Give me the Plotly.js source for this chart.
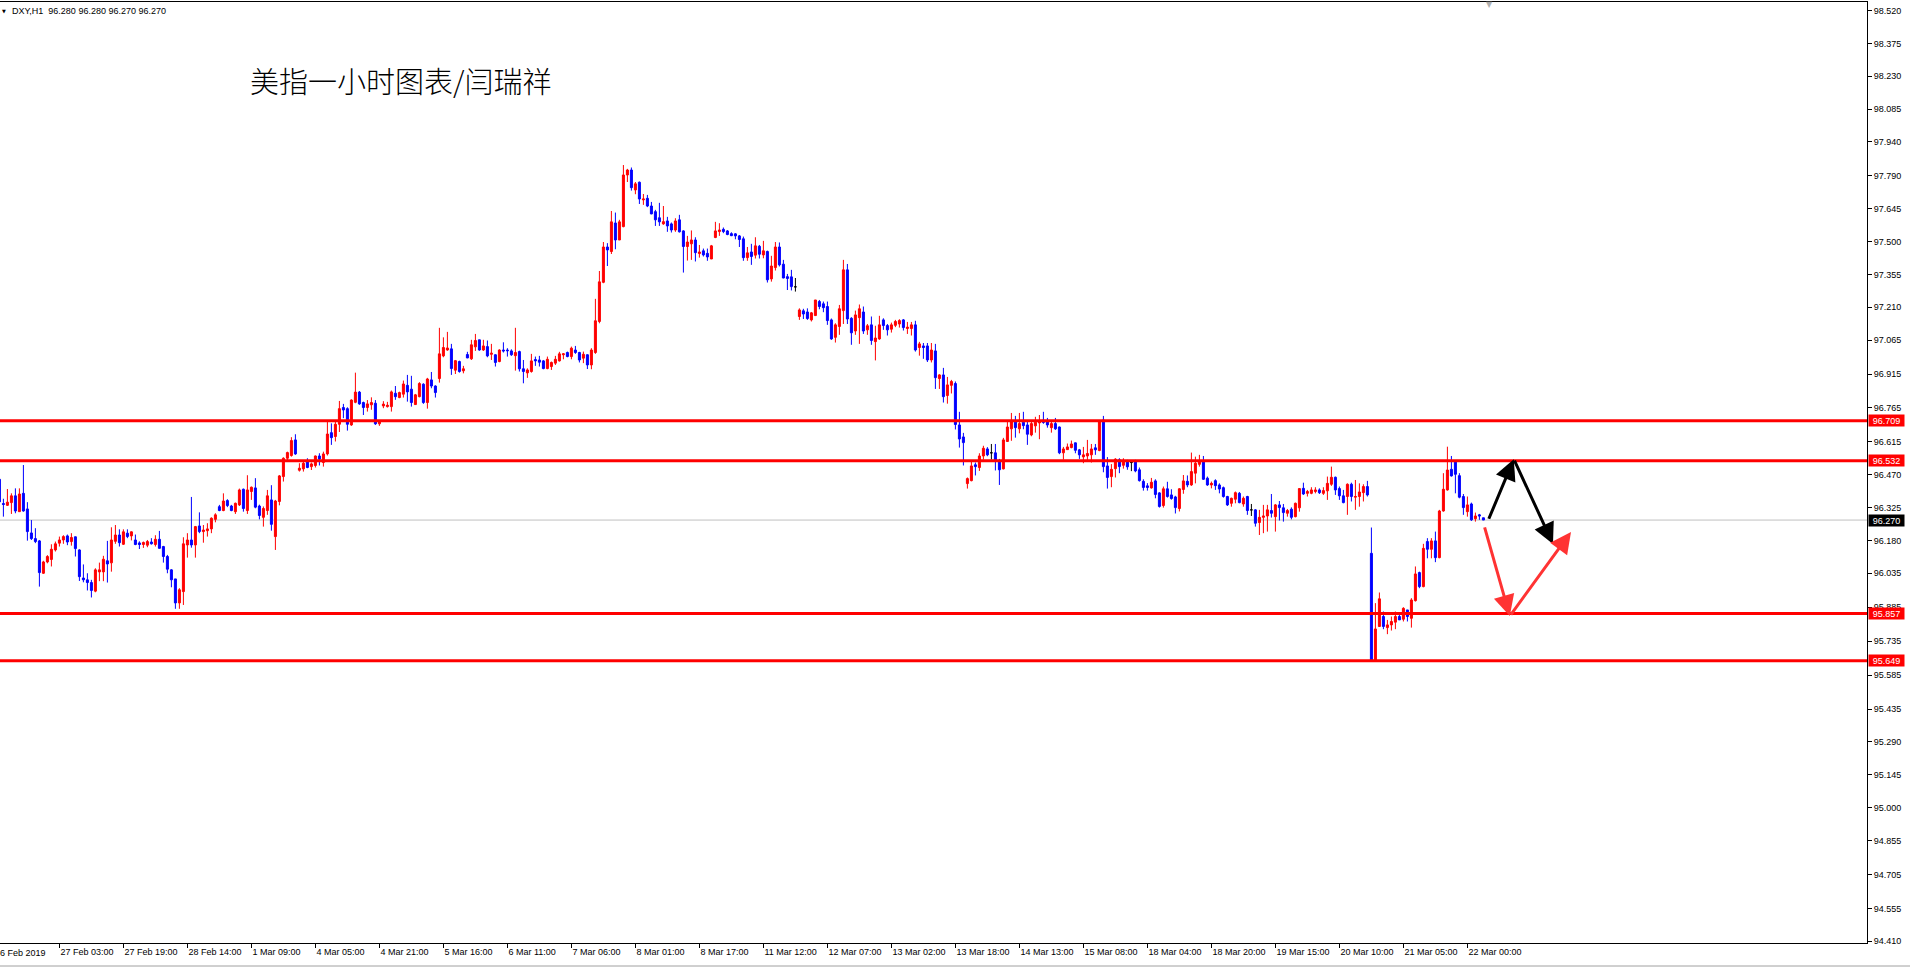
<!DOCTYPE html>
<html>
<head>
<meta charset="utf-8">
<script src="https://cdn.plot.ly/plotly-3.0.1.min.js"></script>
<style>
html,body{margin:0;padding:0;background:#fff;overflow:hidden}
#chart{width:1910px;height:968px}
</style>
</head>
<body>
<div id="chart"></div>
<script>
// ---- DATA (DXY, H1) ----
const firstBarIndex = -1;   // bar index of the first entry below
const open = [
96.450,96.343,96.335,96.347,96.377,96.307,96.388,96.319,96.213,96.188,
96.178,96.035,96.085,96.096,96.138,96.168,96.182,96.200,96.175,96.196,
96.138,96.014,96.006,95.994,95.956,96.041,96.041,96.090,96.081,96.176,
96.204,96.163,96.212,96.200,96.182,96.169,96.162,96.159,96.173,96.162,
96.185,96.153,96.109,96.050,96.010,95.904,95.954,96.160,96.182,96.160,
96.244,96.219,96.223,96.231,96.273,96.329,96.312,96.356,96.332,96.307,
96.337,96.406,96.312,96.396,96.412,96.332,96.282,96.312,96.359,96.197,
96.352,96.462,96.543,96.555,96.624,96.490,96.496,96.528,96.506,96.511,
96.553,96.524,96.562,96.656,96.639,96.693,96.767,96.762,96.690,96.790,
96.835,96.789,96.767,96.779,96.786,96.695,96.774,96.771,96.771,96.830,
96.811,96.826,96.865,96.848,96.780,96.815,96.870,96.789,96.889,96.862,
96.895,96.995,97.021,97.026,96.932,96.970,96.929,97.001,96.982,97.035,
97.066,97.021,97.036,97.002,97.000,96.970,97.021,97.021,97.017,96.996,
97.014,96.938,96.920,96.926,96.979,96.977,96.973,96.939,96.948,96.963,
96.973,97.000,97.010,96.992,97.021,97.010,96.985,97.000,96.955,97.010,
97.147,97.320,97.476,97.456,97.582,97.507,97.566,97.794,97.816,97.728,
97.762,97.684,97.691,97.657,97.632,97.605,97.578,97.591,97.578,97.551,
97.596,97.547,97.478,97.490,97.507,97.447,97.459,97.448,97.423,97.518,
97.544,97.554,97.547,97.535,97.534,97.525,97.512,97.429,97.454,97.440,
97.479,97.441,97.456,97.335,97.385,97.476,97.400,97.345,97.344,97.300,
97.169,97.194,97.189,97.154,97.173,97.235,97.225,97.213,97.154,97.077,
97.125,97.195,97.375,97.161,97.105,97.164,97.189,97.110,97.132,97.058,
97.070,97.154,97.129,97.113,97.130,97.136,97.154,97.116,97.116,97.132,
97.032,97.039,97.039,96.977,97.017,96.895,96.911,96.820,96.865,96.873,
96.690,96.637,96.431,96.444,96.514,96.502,96.553,96.584,96.567,96.567,
96.528,96.496,96.617,96.673,96.705,96.673,96.702,96.690,96.646,96.686,
96.699,96.711,96.705,96.678,96.696,96.681,96.567,96.581,96.590,96.611,
96.580,96.549,96.553,96.558,96.589,96.577,96.712,96.509,96.462,96.497,
96.536,96.512,96.530,96.524,96.527,96.492,96.441,96.421,96.412,96.443,
96.390,96.334,96.408,96.381,96.372,96.321,96.405,96.441,96.425,96.477,
96.516,96.531,96.455,96.425,96.444,96.425,96.413,96.374,96.344,96.362,
96.388,96.341,96.374,96.315,96.315,96.259,96.282,96.288,96.312,96.285,
96.337,96.324,96.300,96.318,96.285,96.324,96.410,96.388,96.388,96.396,
96.403,96.388,96.399,96.428,96.459,96.409,96.377,96.374,96.428,96.371,
96.374,96.391,96.418,96.123,95.652,95.800,95.844,95.795,95.807,95.819,
95.844,95.832,95.873,95.836,95.914,96.038,95.976,96.175,96.141,96.178,
96.104,96.310,96.403,96.494,96.531,96.466,96.374,96.307,96.341,96.276,
96.293,96.280];
const high = [
96.460,96.364,96.407,96.388,96.410,96.410,96.513,96.349,96.270,96.234,
96.182,96.090,96.115,96.163,96.175,96.197,96.203,96.206,96.212,96.197,
96.141,96.074,96.035,96.006,96.057,96.082,96.112,96.178,96.238,96.248,
96.229,96.229,96.229,96.220,96.206,96.176,96.175,96.182,96.190,96.203,
96.222,96.156,96.116,96.053,96.010,95.969,96.194,96.212,96.372,96.244,
96.304,96.248,96.256,96.282,96.300,96.337,96.388,96.362,96.337,96.347,
96.409,96.409,96.468,96.418,96.455,96.338,96.330,96.403,96.424,96.359,
96.469,96.547,96.572,96.636,96.649,96.521,96.528,96.543,96.524,96.555,
96.565,96.572,96.705,96.697,96.709,96.796,96.783,96.768,96.803,96.921,
96.840,96.793,96.800,96.812,96.800,96.709,96.795,96.792,96.842,96.862,
96.837,96.886,96.911,96.907,96.827,96.879,96.874,96.898,96.924,96.865,
97.119,97.077,97.101,97.048,96.977,96.974,96.951,97.013,97.066,97.092,
97.066,97.066,97.063,97.048,97.002,97.024,97.055,97.029,97.024,97.119,
97.018,96.977,96.940,97.004,96.992,96.995,96.977,96.992,96.970,96.995,
97.013,97.007,97.014,97.036,97.039,97.013,97.014,97.002,97.029,97.247,
97.370,97.498,97.493,97.635,97.628,97.596,97.838,97.821,97.827,97.763,
97.765,97.710,97.706,97.675,97.640,97.671,97.657,97.609,97.584,97.603,
97.618,97.550,97.525,97.549,97.519,97.485,97.469,97.469,97.485,97.587,
97.581,97.562,97.551,97.541,97.537,97.529,97.522,97.476,97.490,97.519,
97.485,97.503,97.460,97.437,97.498,97.496,97.419,97.357,97.375,97.339,
97.205,97.203,97.205,97.189,97.242,97.242,97.235,97.235,97.160,97.139,
97.220,97.419,97.401,97.166,97.195,97.222,97.213,97.136,97.169,97.128,
97.172,97.161,97.136,97.142,97.154,97.157,97.158,97.145,97.145,97.150,
97.057,97.052,97.052,97.052,97.048,96.914,96.942,96.902,96.889,96.882,
96.748,96.655,96.458,96.528,96.524,96.565,96.598,96.592,96.606,96.606,
96.540,96.633,96.705,96.743,96.730,96.743,96.748,96.709,96.708,96.726,
96.734,96.748,96.721,96.708,96.721,96.683,96.593,96.608,96.621,96.612,
96.584,96.593,96.624,96.606,96.606,96.711,96.730,96.548,96.517,96.543,
96.543,96.543,96.536,96.530,96.536,96.502,96.450,96.433,96.456,96.450,
96.393,96.418,96.439,96.406,96.377,96.411,96.469,96.467,96.568,96.550,
96.558,96.553,96.462,96.440,96.450,96.432,96.418,96.377,96.369,96.396,
96.394,96.374,96.377,96.341,96.318,96.315,96.337,96.337,96.385,96.341,
96.354,96.341,96.319,96.326,96.347,96.410,96.435,96.403,96.415,96.415,
96.410,96.415,96.462,96.506,96.462,96.418,96.403,96.432,96.435,96.447,
96.432,96.428,96.443,96.237,95.903,95.950,95.866,95.829,95.844,95.866,
95.851,95.885,95.873,95.925,96.065,96.042,96.165,96.190,96.190,96.219,
96.315,96.477,96.594,96.553,96.533,96.477,96.385,96.374,96.347,96.303,
96.297,96.280];
const low = [
96.285,96.285,96.332,96.297,96.300,96.307,96.307,96.179,96.182,96.168,
95.976,96.032,96.079,96.065,96.131,96.153,96.165,96.159,96.157,96.109,
96.001,95.995,95.959,95.928,95.951,96.000,96.000,95.994,96.042,96.165,
96.153,96.160,96.190,96.180,96.159,96.142,96.147,96.150,96.162,96.153,
96.145,96.082,96.035,95.973,95.878,95.878,95.895,96.104,96.148,96.104,
96.212,96.170,96.197,96.212,96.260,96.309,96.309,96.327,96.309,96.297,
96.332,96.307,96.297,96.359,96.322,96.273,96.241,96.293,96.223,96.138,
96.335,96.440,96.528,96.550,96.558,96.484,96.484,96.499,96.491,96.502,
96.511,96.506,96.555,96.602,96.617,96.659,96.720,96.665,96.686,96.786,
96.779,96.734,96.749,96.757,96.690,96.686,96.764,96.767,96.749,96.801,
96.808,96.811,96.793,96.771,96.779,96.812,96.783,96.762,96.852,96.811,
96.877,96.989,97.018,96.911,96.915,96.921,96.918,96.985,96.977,97.017,
97.018,97.017,96.989,96.977,96.948,96.967,97.010,96.992,96.995,96.930,
96.926,96.874,96.898,96.921,96.951,96.948,96.936,96.936,96.933,96.955,
96.970,96.980,96.989,96.980,97.004,96.966,96.963,96.937,96.936,97.004,
97.139,97.316,97.392,97.445,97.466,97.507,97.563,97.763,97.725,97.709,
97.666,97.662,97.652,97.621,97.569,97.569,97.574,97.543,97.540,97.543,
97.540,97.363,97.416,97.419,97.412,97.429,97.434,97.415,97.423,97.515,
97.525,97.537,97.528,97.524,97.510,97.476,97.415,97.415,97.397,97.425,
97.425,97.426,97.319,97.323,97.372,97.390,97.338,97.286,97.284,97.279,
97.154,97.158,97.154,97.147,97.173,97.201,97.188,97.132,97.066,97.054,
97.088,97.136,97.136,97.044,97.088,97.048,97.092,97.088,97.044,96.975,
97.066,97.110,97.085,97.098,97.122,97.120,97.107,97.092,97.085,97.014,
96.996,96.982,96.968,96.966,96.849,96.849,96.789,96.784,96.829,96.670,
96.590,96.511,96.409,96.441,96.467,96.487,96.537,96.552,96.537,96.489,
96.425,96.494,96.615,96.620,96.634,96.653,96.671,96.602,96.640,96.656,
96.627,96.695,96.678,96.656,96.668,96.561,96.537,96.580,96.587,96.565,
96.540,96.521,96.531,96.524,96.558,96.574,96.481,96.409,96.415,96.458,
96.477,96.497,96.492,96.486,96.481,96.440,96.400,96.400,96.409,96.366,
96.325,96.325,96.369,96.360,96.299,96.308,96.386,96.415,96.421,96.432,
96.506,96.447,96.421,96.410,96.403,96.388,96.369,96.332,96.329,96.344,
96.344,96.329,96.293,96.288,96.241,96.204,96.212,96.219,96.281,96.219,
96.268,96.263,96.285,96.273,96.282,96.307,96.381,96.374,96.384,96.388,
96.385,96.381,96.359,96.421,96.381,96.359,96.344,96.293,96.352,96.315,
96.329,96.352,96.374,95.649,95.649,95.800,95.788,95.766,95.782,95.788,
95.829,95.822,95.822,95.795,95.910,95.969,95.973,96.101,96.101,96.084,
96.101,96.307,96.400,96.462,96.388,96.366,96.293,96.285,96.266,96.263,
96.271,96.270];
const close = [
96.350,96.339,96.349,96.377,96.310,96.385,96.310,96.219,96.188,96.175,
96.038,96.085,96.109,96.141,96.165,96.182,96.197,96.173,96.193,96.144,
96.020,96.006,95.994,95.959,96.050,96.050,96.097,96.076,96.182,96.204,
96.170,96.218,96.197,96.218,96.162,96.162,96.171,96.175,96.165,96.185,
96.145,96.109,96.053,96.006,95.904,95.962,96.165,96.182,96.160,96.241,
96.219,96.226,96.231,96.278,96.293,96.312,96.354,96.334,96.312,96.344,
96.403,96.321,96.403,96.415,96.327,96.290,96.321,96.377,96.251,96.354,
96.465,96.543,96.568,96.621,96.562,96.499,96.521,96.502,96.518,96.553,
96.539,96.562,96.650,96.634,96.693,96.762,96.756,96.693,96.800,96.835,
96.783,96.767,96.783,96.789,96.695,96.705,96.782,96.777,96.836,96.815,
96.833,96.871,96.836,96.789,96.823,96.873,96.789,96.893,96.862,96.833,
97.004,97.032,97.030,96.939,96.974,96.926,96.938,96.986,97.044,97.063,
97.021,97.039,96.995,97.007,96.966,97.021,97.017,97.018,97.000,97.010,
96.938,96.926,96.933,96.973,96.973,96.967,96.939,96.980,96.966,96.980,
97.004,97.004,96.992,97.029,97.010,96.977,97.002,96.955,97.021,97.150,
97.322,97.476,97.463,97.587,97.507,97.587,97.794,97.816,97.738,97.755,
97.688,97.688,97.657,97.622,97.596,97.587,97.588,97.569,97.551,97.591,
97.543,97.478,97.498,97.507,97.451,97.454,97.441,97.432,97.481,97.547,
97.551,97.544,97.531,97.526,97.525,97.509,97.429,97.450,97.434,97.481,
97.444,97.459,97.331,97.392,97.476,97.397,97.339,97.337,97.301,97.300,
97.198,97.180,97.160,97.185,97.242,97.213,97.208,97.151,97.070,97.132,
97.203,97.375,97.158,97.097,97.176,97.203,97.105,97.128,97.063,97.074,
97.132,97.129,97.110,97.132,97.147,97.151,97.120,97.122,97.132,97.021,
97.048,97.032,96.977,97.021,96.899,96.911,96.815,96.867,96.882,96.692,
96.628,96.612,96.453,96.509,96.506,96.553,96.587,96.558,96.567,96.536,
96.492,96.624,96.681,96.705,96.678,96.696,96.687,96.649,96.696,96.702,
96.705,96.701,96.690,96.696,96.673,96.567,96.584,96.593,96.606,96.578,
96.558,96.558,96.564,96.584,96.580,96.704,96.506,96.458,96.494,96.539,
96.506,96.533,96.505,96.524,96.487,96.444,96.414,96.414,96.437,96.383,
96.330,96.408,96.374,96.365,96.325,96.408,96.443,96.425,96.484,96.521,
96.531,96.450,96.425,96.432,96.422,96.407,96.374,96.337,96.366,96.391,
96.347,96.366,96.312,96.315,96.256,96.282,96.288,96.315,96.300,96.337,
96.325,96.303,96.312,96.282,96.344,96.409,96.385,96.396,96.403,96.403,
96.391,96.400,96.432,96.459,96.403,96.377,96.347,96.428,96.374,96.374,
96.394,96.418,96.381,95.652,95.789,95.922,95.800,95.807,95.822,95.844,
95.829,95.880,95.844,95.917,96.032,95.976,96.145,96.141,96.178,96.104,
96.310,96.406,96.491,96.465,96.472,96.371,96.325,96.337,96.271,96.288,
96.288,96.270];

const timeTickBars = [14,30,46,62,78,94,110,126,142,158,174,190,206,222,238,254,270,286,302,318,334,350,366];
const timeTickLabels = ["27 Feb 03:00","27 Feb 19:00","28 Feb 14:00","1 Mar 09:00","4 Mar 05:00","4 Mar 21:00",
  "5 Mar 16:00","6 Mar 11:00","7 Mar 06:00","8 Mar 01:00","8 Mar 17:00","11 Mar 12:00","12 Mar 07:00",
  "13 Mar 02:00","13 Mar 18:00","14 Mar 13:00","15 Mar 08:00","18 Mar 04:00","18 Mar 20:00","19 Mar 15:00",
  "20 Mar 10:00","21 Mar 05:00","22 Mar 00:00"];
const firstDateLabel = "26 Feb 2019";
const priceTicks = [98.520,98.375,98.230,98.085,97.940,97.790,97.645,97.500,97.355,97.210,97.065,96.915,96.765,
  96.615,96.470,96.325,96.180,96.035,95.885,95.735,95.585,95.435,95.290,95.145,95.000,94.855,94.705,94.555,94.410];
const levelLines = [96.709, 96.532, 95.857, 95.649];
const bidPrice = 96.270;
const headerText = "DXY,H1\u00a0\u00a096.280 96.280 96.270 96.270";
const chartTitle = "美指一小时图表/闫瑞祥";
// projected path arrows: [tailBar, tailPrice, headBar, headPrice]
const blackArrows = [[371.2, 96.269, 377.6, 96.539], [377.6, 96.539, 387.4, 96.164]];
const redArrows = [[370.2, 96.244, 376.6, 95.846], [376.6, 95.846, 391.9, 96.217]];

// ---- BUILD ----
const W = 1910, H = 968;
const plotL = 0, plotR = 1867, plotT = 2, plotB = 943;
const xRange = [-0.85, 465.9];
const yRange = [94.402, 98.558];

const xs = [], o1 = [], h1 = [], l1 = [], c1 = [];
const xd = [], od = [], hd = [], ld = [], cd = [];
for (let k = 0; k < open.length; k++) {
  const x = firstBarIndex + k;
  if (open[k] === close[k]) { xd.push(x); od.push(open[k]); hd.push(high[k]); ld.push(low[k]); cd.push(close[k]); }
  else { xs.push(x); o1.push(open[k]); h1.push(high[k]); l1.push(low[k]); c1.push(close[k]); }
}

const traces = [
  { type: 'candlestick', x: xs, open: o1, high: h1, low: l1, close: c1, whiskerwidth: 0,
    increasing: { line: { color: '#FF0000', width: 1 }, fillcolor: '#FF0000' },
    decreasing: { line: { color: '#0000FF', width: 1 }, fillcolor: '#0000FF' },
    hoverinfo: 'skip', showlegend: false },
  { type: 'candlestick', x: xd, open: od, high: hd, low: ld, close: cd, whiskerwidth: 0,
    increasing: { line: { color: '#000000', width: 1 }, fillcolor: '#000000' },
    decreasing: { line: { color: '#000000', width: 1 }, fillcolor: '#000000' },
    hoverinfo: 'skip', showlegend: false }
];

const px2paperX = p => (p - plotL) / (plotR - plotL);
const px2paperY = p => 1 - (p - plotT) / (plotB - plotT);

const shapes = [
  { type: 'line', xref: 'paper', yref: 'y', x0: 0, x1: 1, y0: bidPrice, y1: bidPrice,
    line: { color: '#C0C0C0', width: 1 }, layer: 'below' }
];
levelLines.forEach(v => shapes.push({ type: 'line', xref: 'paper', yref: 'y', x0: 0, x1: 1, y0: v, y1: v,
  line: { color: '#FF0000', width: 3 }, layer: 'above' }));
// window bottom border
shapes.push({ type: 'line', xref: 'paper', yref: 'paper', x0: 0, x1: px2paperX(W), y0: px2paperY(966), y1: px2paperY(966),
  line: { color: '#A0A0A0', width: 1 } });

const annotations = [];
levelLines.forEach(v => annotations.push({ xref: 'paper', yref: 'y', x: 1, y: v, xanchor: 'left', yanchor: 'middle',
  xshift: 1, text: v.toFixed(3), showarrow: false, bgcolor: '#FF0000', borderpad: 1, width: 33, height: 9,
  font: { family: 'Liberation Sans, Arial, sans-serif', size: 9, color: '#FFFFFF' } }));
annotations.push({ xref: 'paper', yref: 'y', x: 1, y: bidPrice, xanchor: 'left', yanchor: 'middle',
  xshift: 1, text: bidPrice.toFixed(3), showarrow: false, bgcolor: '#000000', borderpad: 1, width: 33, height: 9,
  font: { family: 'Liberation Sans, Arial, sans-serif', size: 9, color: '#FFFFFF' } });
annotations.push({ xref: 'paper', yref: 'paper', x: px2paperX(10), y: px2paperY(11), xanchor: 'left', yanchor: 'middle',
  text: headerText, showarrow: false, font: { family: 'Liberation Sans, Arial, sans-serif', size: 9, color: '#000000' } });
annotations.push({ xref: 'paper', yref: 'paper', x: px2paperX(0), y: px2paperY(11), xanchor: 'left', yanchor: 'middle',
  text: '▼', showarrow: false, font: { family: 'DejaVu Sans, sans-serif', size: 5, color: '#000000' } });
annotations.push({ xref: 'paper', yref: 'paper', x: px2paperX(-7), y: -(953 - plotB) / (plotB - plotT), xanchor: 'left', yanchor: 'middle',
  text: firstDateLabel, showarrow: false, font: { family: 'Liberation Sans, Arial, sans-serif', size: 9, color: '#000000' } });
annotations.push({ xref: 'paper', yref: 'paper', x: px2paperX(1489), y: px2paperY(4), xanchor: 'center', yanchor: 'middle',
  text: '▼', showarrow: false, font: { family: 'DejaVu Sans, sans-serif', size: 8, color: '#B0B0B0' } });

function addArrows(list, color) {
  list.forEach(a => annotations.push({ xref: 'x', yref: 'y', axref: 'x', ayref: 'y',
    ax: a[0], ay: a[1], x: a[2], y: a[3], text: '', showarrow: true,
    arrowhead: 2, arrowsize: 1.4, arrowwidth: 3, arrowcolor: color, standoff: 0, startstandoff: 0 }));
}
addArrows(blackArrows, '#000000');
addArrows(redArrows, '#FF3333');

const layout = {
  width: W, height: H,
  margin: { l: plotL, r: W - plotR, t: plotT, b: H - plotB, pad: 0 },
  paper_bgcolor: '#FFFFFF', plot_bgcolor: '#FFFFFF',
  showlegend: false, hovermode: false,
  boxgap: 0.5, boxgroupgap: 0,
  title: { text: chartTitle, xref: 'container', yref: 'container', x: 250 / W, xanchor: 'left',
    y: 1 - 83 / H, yanchor: 'middle',
    font: { family: 'Noto Sans CJK SC, sans-serif', size: 29, weight: 300, color: '#000000' } },
  xaxis: {
    type: 'linear', range: xRange, rangeslider: { visible: false },
    tickmode: 'array', tickvals: timeTickBars, ticktext: timeTickLabels,
    ticks: 'outside', ticklen: 4, tickcolor: '#000000', tickwidth: 1,
    ticklabelposition: 'outside right',
    tickfont: { family: 'Liberation Sans, Arial, sans-serif', size: 9, color: '#000000' },
    showgrid: false, zeroline: false, showline: true, linecolor: '#000000', linewidth: 1, mirror: true,
    fixedrange: true
  },
  yaxis: {
    side: 'right', range: yRange,
    tickmode: 'array', tickvals: priceTicks, ticktext: priceTicks.map(v => v.toFixed(3)),
    ticks: 'outside', ticklen: 4, tickcolor: '#000000', tickwidth: 1,
    tickfont: { family: 'Liberation Sans, Arial, sans-serif', size: 9, color: '#000000' },
    showgrid: false, zeroline: false, showline: true, linecolor: '#000000', linewidth: 1,
    fixedrange: true
  },
  shapes: shapes,
  annotations: annotations
};

Plotly.newPlot('chart', traces, layout, { displayModeBar: false, staticPlot: true });
</script>
</body>
</html>
